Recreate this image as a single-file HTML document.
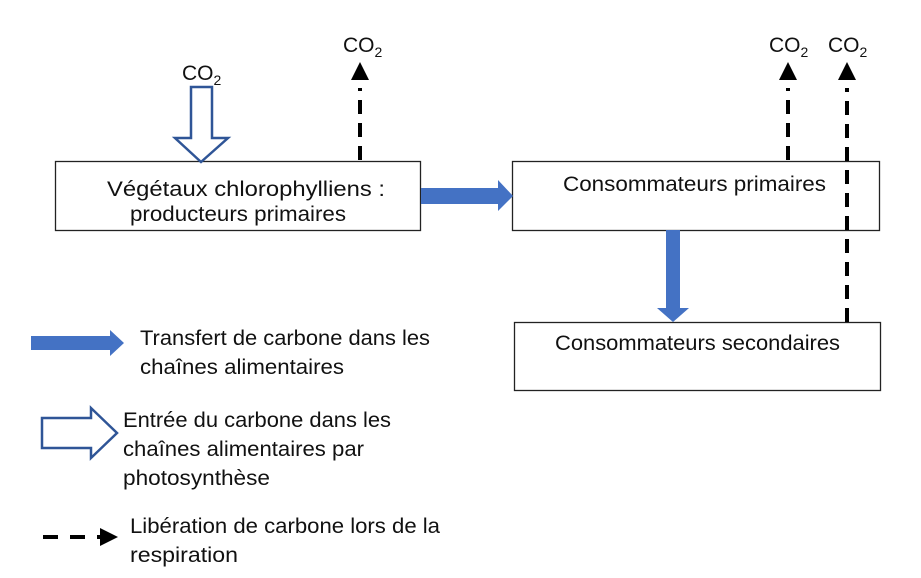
<!DOCTYPE html>
<html><head><meta charset="utf-8"><style>
body{margin:0;background:#fff}
svg{display:block}
text{font-family:"Liberation Sans",sans-serif;font-size:21px;fill:#111}
</style></head><body>
<svg width="921" height="578" viewBox="0 0 921 578" xmlns="http://www.w3.org/2000/svg">
<rect x="55.5" y="161.5" width="365" height="69" fill="#fff" stroke="#222" stroke-width="1.3"/>
<rect x="512.5" y="161.5" width="367" height="69" fill="#fff" stroke="#222" stroke-width="1.3"/>
<rect x="514.5" y="322.5" width="366" height="68" fill="#fff" stroke="#222" stroke-width="1.3"/>
<text x="107" y="196" textLength="278" lengthAdjust="spacingAndGlyphs">Végétaux chlorophylliens :</text>
<text x="130" y="221" textLength="216" lengthAdjust="spacingAndGlyphs">producteurs primaires</text>
<text x="563" y="191" textLength="263" lengthAdjust="spacingAndGlyphs">Consommateurs primaires</text>
<text x="555" y="350" textLength="285" lengthAdjust="spacingAndGlyphs">Consommateurs secondaires</text>
<polygon points="421,188 498,188 498,180 513,196 498,211 498,204 421,204" fill="#4472c4"/>
<polygon points="666,230 680,230 680,308 689,308 673,322 657,308 666,308" fill="#4472c4"/>
<polygon points="191,87 212,87 212,138 228,138 201,162 175,138 191,138" fill="#fff" stroke="#2f5597" stroke-width="2.5"/>
<text x="182" y="80">CO<tspan font-size="14" dy="5">2</tspan></text>
<g stroke="#000" stroke-width="4" stroke-dasharray="14,9">
<line x1="360" y1="160" x2="360" y2="88"/>
<line x1="788" y1="160" x2="788" y2="88"/>
<line x1="847" y1="322" x2="847" y2="88"/>
</g>
<polygon points="360,62 369,80 351,80" fill="#000"/>
<polygon points="788,62 797,80 779,80" fill="#000"/>
<polygon points="847,62 856,80 838,80" fill="#000"/>
<text x="343" y="52">CO<tspan font-size="14" dy="5">2</tspan></text>
<text x="769" y="52">CO<tspan font-size="14" dy="5">2</tspan></text>
<text x="828" y="52">CO<tspan font-size="14" dy="5">2</tspan></text>
<polygon points="31,336 110,336 110,330 124,343 110,356 110,350 31,350" fill="#4472c4"/>
<text x="140" y="345" textLength="290" lengthAdjust="spacingAndGlyphs">Transfert de carbone dans les</text>
<text x="140" y="374" textLength="204" lengthAdjust="spacingAndGlyphs">chaînes alimentaires</text>
<polygon points="42,418 91,418 91,408 117,433 91,458 91,448 42,448" fill="#fff" stroke="#2f5597" stroke-width="2.5"/>
<text x="123" y="427" textLength="268" lengthAdjust="spacingAndGlyphs">Entrée du carbone dans les</text>
<text x="123" y="456" textLength="241" lengthAdjust="spacingAndGlyphs">chaînes alimentaires par</text>
<text x="123" y="485" textLength="147" lengthAdjust="spacingAndGlyphs">photosynthèse</text>
<g stroke="#000" stroke-width="4"><line x1="43" y1="537" x2="58" y2="537"/><line x1="70" y1="537" x2="85" y2="537"/><line x1="97" y1="537" x2="102" y2="537"/></g>
<polygon points="100,528 118,537 100,546" fill="#000"/>
<text x="130" y="533" textLength="310" lengthAdjust="spacingAndGlyphs">Libération de carbone lors de la</text>
<text x="130" y="562" textLength="108" lengthAdjust="spacingAndGlyphs">respiration</text>
</svg>
</body></html>
